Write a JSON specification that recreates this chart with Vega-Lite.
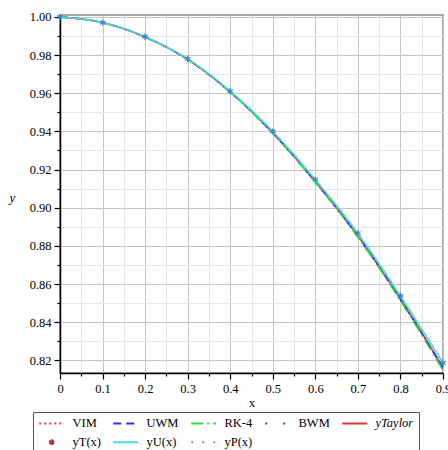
{
  "$schema": "https://vega.github.io/schema/vega-lite/v6.json",
  "width": 383,
  "height": 358,
  "autosize": "none",
  "padding": {"left": 60, "top": 15, "right": 5, "bottom": 77},
  "background": "white",
  "config": {
    "view": {"stroke": "#8c8c8c", "strokeWidth": 1.5},
    "font": "Liberation Serif",
    "axis": {
      "labelFont": "Liberation Serif",
      "labelFontSize": 12.5,
      "labelColor": "black",
      "titleFont": "Liberation Serif",
      "titleFontSize": 13,
      "titleFontWeight": "normal",
      "titleColor": "black",
      "domainColor": "black",
      "domainWidth": 1.5,
      "tickColor": "black",
      "tickWidth": 1.2
    }
  },
  "data": {
    "values": [
      {"x": 0.0, "y": 1.0, "s": "yTaylor"}, {"x": 0.1, "y": 0.997, "s": "yTaylor"}, {"x": 0.2, "y": 0.9895, "s": "yTaylor"}, {"x": 0.3, "y": 0.9777, "s": "yTaylor"}, {"x": 0.4, "y": 0.9607, "s": "yTaylor"}, {"x": 0.5, "y": 0.9392, "s": "yTaylor"}, {"x": 0.6, "y": 0.9137, "s": "yTaylor"}, {"x": 0.7, "y": 0.8852, "s": "yTaylor"}, {"x": 0.8, "y": 0.8522, "s": "yTaylor"}, {"x": 0.9, "y": 0.8162, "s": "yTaylor"},
      {"x": 0.0, "y": 1.0, "s": "VIM"}, {"x": 0.1, "y": 0.997, "s": "VIM"}, {"x": 0.2, "y": 0.9895, "s": "VIM"}, {"x": 0.3, "y": 0.9777, "s": "VIM"}, {"x": 0.4, "y": 0.9607, "s": "VIM"}, {"x": 0.5, "y": 0.9392, "s": "VIM"}, {"x": 0.6, "y": 0.9137, "s": "VIM"}, {"x": 0.7, "y": 0.8852, "s": "VIM"}, {"x": 0.8, "y": 0.8522, "s": "VIM"}, {"x": 0.9, "y": 0.8162, "s": "VIM"},
      {"x": 0.0, "y": 1.0, "s": "UWM"}, {"x": 0.1, "y": 0.997, "s": "UWM"}, {"x": 0.2, "y": 0.9895, "s": "UWM"}, {"x": 0.3, "y": 0.9777, "s": "UWM"}, {"x": 0.4, "y": 0.9607, "s": "UWM"}, {"x": 0.5, "y": 0.9392, "s": "UWM"}, {"x": 0.6, "y": 0.9136, "s": "UWM"}, {"x": 0.7, "y": 0.885, "s": "UWM"}, {"x": 0.8, "y": 0.852, "s": "UWM"}, {"x": 0.9, "y": 0.816, "s": "UWM"},
      {"x": 0.0, "y": 1.0, "s": "RK-4"}, {"x": 0.1, "y": 0.997, "s": "RK-4"}, {"x": 0.2, "y": 0.9895, "s": "RK-4"}, {"x": 0.3, "y": 0.9777, "s": "RK-4"}, {"x": 0.4, "y": 0.9606, "s": "RK-4"}, {"x": 0.5, "y": 0.939, "s": "RK-4"}, {"x": 0.6, "y": 0.9133, "s": "RK-4"}, {"x": 0.7, "y": 0.8846, "s": "RK-4"}, {"x": 0.8, "y": 0.8513, "s": "RK-4"}, {"x": 0.9, "y": 0.8148, "s": "RK-4"},
      {"x": 0.0, "y": 1.0, "s": "BWM"}, {"x": 0.1, "y": 0.997, "s": "BWM"}, {"x": 0.2, "y": 0.9895, "s": "BWM"}, {"x": 0.3, "y": 0.9777, "s": "BWM"}, {"x": 0.4, "y": 0.9607, "s": "BWM"}, {"x": 0.5, "y": 0.9392, "s": "BWM"}, {"x": 0.6, "y": 0.9137, "s": "BWM"}, {"x": 0.7, "y": 0.8852, "s": "BWM"}, {"x": 0.8, "y": 0.8522, "s": "BWM"}, {"x": 0.9, "y": 0.8162, "s": "BWM"},
      {"x": 0.0, "y": 1.0, "s": "yU(x)"}, {"x": 0.1, "y": 0.997, "s": "yU(x)"}, {"x": 0.2, "y": 0.9896, "s": "yU(x)"}, {"x": 0.3, "y": 0.978, "s": "yU(x)"}, {"x": 0.4, "y": 0.9611, "s": "yU(x)"}, {"x": 0.5, "y": 0.94, "s": "yU(x)"}, {"x": 0.6, "y": 0.9147, "s": "yU(x)"}, {"x": 0.7, "y": 0.8866, "s": "yU(x)"}, {"x": 0.8, "y": 0.8538, "s": "yU(x)"}, {"x": 0.9, "y": 0.8187, "s": "yU(x)"},
      {"x": 0.0, "y": 1.0, "s": "yP(x)"}, {"x": 0.1, "y": 0.997, "s": "yP(x)"}, {"x": 0.2, "y": 0.9895, "s": "yP(x)"}, {"x": 0.3, "y": 0.9778, "s": "yP(x)"}, {"x": 0.4, "y": 0.9608, "s": "yP(x)"}, {"x": 0.5, "y": 0.9395, "s": "yP(x)"}, {"x": 0.6, "y": 0.914, "s": "yP(x)"}, {"x": 0.7, "y": 0.8856, "s": "yP(x)"}, {"x": 0.8, "y": 0.8527, "s": "yP(x)"}, {"x": 0.9, "y": 0.8168, "s": "yP(x)"},
      {"x": 0.0, "y": 1.0, "s": "yT(x)"}, {"x": 0.1, "y": 0.997, "s": "yT(x)"}, {"x": 0.2, "y": 0.9896, "s": "yT(x)"}, {"x": 0.3, "y": 0.978, "s": "yT(x)"}, {"x": 0.4, "y": 0.9611, "s": "yT(x)"}, {"x": 0.5, "y": 0.94, "s": "yT(x)"}, {"x": 0.6, "y": 0.9147, "s": "yT(x)"}, {"x": 0.7, "y": 0.8866, "s": "yT(x)"}, {"x": 0.8, "y": 0.8538, "s": "yT(x)"}, {"x": 0.9, "y": 0.8187, "s": "yT(x)"}
    ]
  },
  "encoding": {
    "x": {
      "field": "x", "type": "quantitative",
      "scale": {"domain": [0, 0.9], "nice": false, "zero": false},
      "axis": {
        "title": "x",
        "values": [0, 0.05, 0.1, 0.15, 0.2, 0.25, 0.3, 0.35, 0.4, 0.45, 0.5, 0.55, 0.6, 0.65, 0.7, 0.75, 0.8, 0.85, 0.9],
        "labelExpr": "round(datum.value*20) % 2 == 0 ? format(datum.value, '.1~f') : ''",
        "labelFlush": false,
        "labelOverlap": false,
        "labelPadding": 3,
        "titlePadding": 2,
        "tickSize": {"condition": {"test": "round(datum.value*20) % 2 == 0", "value": 6}, "value": 3},
        "gridColor": {"condition": {"test": "round(datum.value*20) % 2 == 0", "value": "#c4c4c4"}, "value": "#e6e6e6"},
        "gridWidth": 1
      }
    },
    "y": {
      "field": "y", "type": "quantitative",
      "scale": {"domain": [0.8134, 1.001], "nice": false, "zero": false},
      "axis": {
        "title": "y",
        "titleAngle": 0,
        "titleFontStyle": "italic",
        "titleX": -48,
        "titleY": 182,
        "titleAlign": "center",
        "titleBaseline": "middle",
        "values": [0.82, 0.83, 0.84, 0.85, 0.86, 0.87, 0.88, 0.89, 0.9, 0.91, 0.92, 0.93, 0.94, 0.95, 0.96, 0.97, 0.98, 0.99, 1.0],
        "labelExpr": "round(datum.value*100) % 2 == 0 ? format(datum.value, '.2f') : ''",
        "labelOverlap": false,
        "labelPadding": 3,
        "tickSize": {"condition": {"test": "round(datum.value*100) % 2 == 0", "value": 6}, "value": 3},
        "gridColor": {"condition": {"test": "round(datum.value*100) % 2 == 0", "value": "#c4c4c4"}, "value": "#e6e6e6"},
        "gridWidth": 1
      }
    }
  },
  "layer": [
    {
      "transform": [{"filter": "datum.s !== 'yT(x)'"}],
      "mark": {"type": "line", "strokeWidth": 1.6, "interpolate": "monotone", "clip": true},
      "encoding": {
        "color": {
          "field": "s", "type": "nominal", "sort": null,
          "scale": {
            "domain": ["VIM", "UWM", "RK-4", "BWM", "yTaylor", "yT(x)", "yU(x)", "yP(x)"],
            "range": ["#e8334a", "#2b2bf0", "#2fdc2f", "#7a3a7a", "#e03535", "#a03c3c", "#3ee0e0", "#e060e0"]
          },
          "legend": {
            "title": null,
            "orient": "none",
            "legendX": -27,
            "legendY": 397,
            "direction": "horizontal",
            "columns": 5,
            "padding": 5,
            "strokeColor": "#555555",
            "fillColor": "white",
            "symbolType": "M-1,0H4",
            "symbolSize": 100,
            "symbolStrokeWidth": 2,
            "labelFont": "Liberation Serif",
            "labelFontSize": 12.5,
            "labelColor": "black",
            "labelOffset": 22,
            "columnPadding": 8,
            "rowPadding": 5,
            "encode": {
              "symbols": {"update": {"shape": {"signal": "datum.value === 'yT(x)' ? 'M1.5,-0.6L1.5,0.6M0.98,-0.3L2.02,0.3M0.98,0.3L2.02,-0.3' : 'M-1,0H4'"}}},
              "labels": {"update": {"fontStyle": {"signal": "datum.value === 'yTaylor' ? 'italic' : 'normal'"}}}
            }
          }
        },
        "strokeDash": {
          "field": "s", "type": "nominal", "sort": null,
          "scale": {
            "domain": ["VIM", "UWM", "RK-4", "BWM", "yTaylor", "yT(x)", "yU(x)", "yP(x)"],
            "range": [[2, 3], [8, 5], [12, 4, 2, 4], [2, 16], [1, 0], [1, 0], [1, 0], [2, 9]]
          },
          "legend": {
            "title": null,
            "orient": "none",
            "legendX": -27,
            "legendY": 397,
            "direction": "horizontal",
            "columns": 5
          }
        }
      }
    },
    {
      "transform": [{"filter": "datum.s === 'yT(x)'"}],
      "mark": {"type": "point", "shape": "M0,-1L0,1M-0.87,-0.5L0.87,0.5M-0.87,0.5L0.87,-0.5", "size": 40, "filled": false, "stroke": "#3f86c8", "strokeWidth": 1.3, "opacity": 1}
    }
  ]
}
